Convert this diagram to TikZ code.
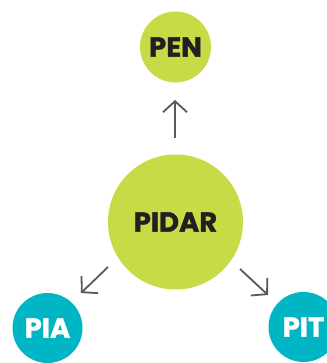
\documentclass[tikz,border=0pt]{standalone}
\usepackage{fontspec}
\setmainfont{Poppins}
\newfontfamily\lblfont{Poppins}[BoldFeatures={FakeBold=1.2}]
\usetikzlibrary{arrows.meta,calc}
\definecolor{lime}{HTML}{C8DA46}
\definecolor{teal}{HTML}{00B6C4}
\definecolor{arrgray}{HTML}{58595B}
\definecolor{ink}{HTML}{231F20}
\tikzset{
  lbl/.style={circle,inner sep=0pt,font=\lblfont\fontsize{27.5}{27.5}\selectfont\bfseries},
  limec/.style={lbl,fill=lime,text=ink},
  tealc/.style={lbl,fill=teal,text=white},
  arr/.style={draw=arrgray,line width=1.8pt,-{Straight Barb[length=11pt,width=24pt,line width=1.8pt]}}
}
\begin{document}
\begin{tikzpicture}[x=1pt,y=1pt]
\useasboundingbox (0,0) rectangle (326,363);
\node[limec,minimum size=71pt] (pen) at (175.5,316) {PEN};
\node[limec,minimum size=135pt] (pidar) at (175.5,141) {PIDAR};
\node[tealc,minimum size=70pt] (pia) at (47.5,35) {PIA};
\node[tealc,minimum size=70pt] (pit) at (303.5,36) {PIT};
\draw[arr] ($(pidar.center)+(-0.5,84)$) -- ($(pen.center)+(-0.5,-53)$);
\draw[arr] ($(pidar.center)+(-67.5,-45)$) -- ($(pia.center)+(33.5,35)$);
\draw[arr] ($(pidar.center)+(64.5,-47)$) -- ($(pit.center)+(-35.5,32)$);
\end{tikzpicture}
\end{document}
